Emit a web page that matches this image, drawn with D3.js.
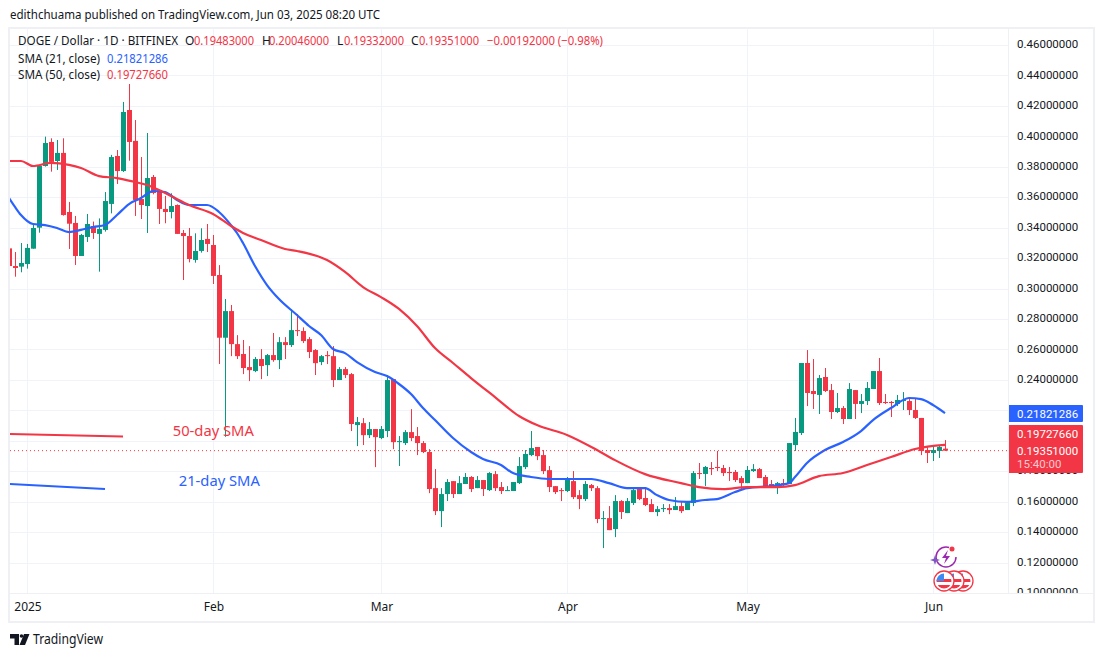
<!DOCTYPE html>
<html><head><meta charset="utf-8">
<script src="https://cdnjs.cloudflare.com/ajax/libs/d3/7.8.5/d3.min.js"></script>
<style>
html,body{margin:0;padding:0;background:#fff;overflow:hidden}
svg{display:block}
text{font-family:"Noto Sans",sans-serif;fill:#131722}
</style></head><body>
<script>
// Daily candles, first bar is Dec 29 2024 (day -3 relative to Jan 1)
const firstDay = -3;
const open = [.3264,.3148,.3144,.3161,.3262,.3400,.3805,.3963,.3838,.3891,.3503,.3431,.3214,.3339,.3411,.3359,.3385,.3556,.3871,.3772,.4173,.3970,.3588,.3542,.3733,.3648,.3523,.3503,.3549,.3365,.3345,.3188,.3247,.3326,.3286,.3089,.2677,.2852,.2635,.2570,.2484,.2458,.2537,.2497,.2563,.2530,.2648,.2629,.2727,.2721,.2668,.2596,.2517,.2563,.2556,.2399,.2471,.2438,.2103,.2116,.2037,.2077,.2018,.2064,.2405,.1991,.1985,.2057,.2031,.1985,.1926,.1689,.1538,.1650,.1735,.1650,.1716,.1762,.1689,.1742,.1676,.1781,.1696,.1670,.1670,.1722,.1827,.1906,.1959,.1906,.1807,.1702,.1676,.1670,.1735,.1643,.1617,.1709,.1689,.1486,.1492,.1420,.1604,.1525,.1591,.1683,.1624,.1584,.1532,.1551,.1558,.1545,.1571,.1545,.1591,.1788,.1782,.1821,.1828,.1821,.1795,.1795,.1755,.1722,.1801,.1814,.1762,.1716,.1703,.1722,.1716,.1972,.2051,.2511,.2327,.2301,.2419,.2333,.2189,.2215,.2143,.2333,.2242,.2261,.2340,.2458,.2255,.2255,.2242,.2261,.2261,.2202,.2150,.1939,.1920,.1933,.19483];
const high = [.3264,.3240,.3299,.3293,.3429,.3812,.3998,.3987,.3976,.3987,.3569,.3477,.3359,.3490,.3440,.3461,.3634,.3878,.3910,.4226,.4344,.4107,.3864,.4022,.3746,.3648,.3608,.3626,.3553,.3385,.3398,.3363,.3396,.3424,.3352,.3154,.2931,.2892,.2694,.2662,.2622,.2550,.2602,.2570,.2708,.2681,.2681,.2865,.2832,.2745,.2681,.2602,.2563,.2589,.2622,.2484,.2484,.2445,.2156,.2149,.2123,.2077,.2097,.2432,.2405,.2031,.2070,.2208,.2090,.1998,.1945,.1814,.1689,.1748,.1735,.1768,.1788,.1768,.1768,.1742,.1794,.1801,.1729,.1702,.1729,.1893,.1939,.2064,.1959,.1939,.1834,.1702,.1689,.1762,.1801,.1676,.1735,.1716,.1702,.1538,.1571,.1643,.1610,.1624,.1696,.1696,.1696,.1617,.1571,.1584,.1584,.1630,.1597,.1591,.1801,.1854,.1834,.1860,.1933,.1841,.1828,.1808,.1768,.1834,.1847,.1821,.1775,.1742,.1729,.1749,.1985,.2150,.2511,.2596,.2537,.2432,.2478,.2373,.2314,.2228,.2379,.2333,.2307,.2386,.2458,.2544,.2307,.2261,.2301,.2320,.2274,.2281,.2150,.1959,.1966,.1972,.20046];
const low = [.3144,.3078,.3107,.3131,.3262,.3367,.3801,.3768,.3779,.3479,.3260,.3155,.3214,.3306,.3326,.3111,.3374,.3494,.3687,.3766,.3840,.3477,.3457,.3365,.3619,.3424,.3429,.3461,.3359,.3056,.3172,.3170,.3236,.3240,.3030,.2504,.2026,.2556,.2537,.2438,.2392,.2451,.2405,.2425,.2519,.2471,.2537,.2616,.2688,.2642,.2543,.2432,.2497,.2504,.2353,.2399,.2412,.2064,.1965,.1972,.2018,.1827,.2011,.2024,.1945,.1834,.1972,.1998,.1906,.1919,.1656,.1512,.1433,.1604,.1624,.1650,.1716,.1663,.1689,.1637,.1670,.1670,.1650,.1670,.1670,.1716,.1814,.1899,.1873,.1781,.1663,.1650,.1604,.1663,.1617,.1551,.1604,.1670,.1459,.1295,.1413,.1367,.1486,.1525,.1578,.1610,.1571,.1532,.1505,.1532,.1518,.1545,.1525,.1545,.1571,.1749,.1703,.1775,.1801,.1768,.1736,.1729,.1676,.1722,.1795,.1755,.1703,.1696,.1650,.1696,.1716,.1933,.2038,.2228,.2209,.2176,.2320,.2143,.2182,.2110,.2143,.2143,.2182,.2235,.2340,.2235,.2242,.2156,.2228,.2202,.2169,.2143,.1906,.1854,.1867,.1887,.19332];
const close = [.3148,.3135,.3168,.3267,.3398,.3805,.3956,.3832,.3891,.3483,.3426,.3214,.3352,.3424,.3365,.3391,.3575,.3864,.3772,.4160,.3963,.3582,.3549,.3726,.3628,.3523,.3503,.3542,.3359,.3345,.3194,.3247,.3319,.3293,.3083,.2677,.2852,.2635,.2556,.2478,.2464,.2537,.2491,.2563,.2530,.2648,.2629,.2727,.2721,.2655,.2583,.2510,.2556,.2556,.2399,.2471,.2432,.2110,.2123,.2037,.2077,.2024,.2077,.2399,.1991,.1998,.2057,.2018,.1985,.1926,.1683,.1538,.1650,.1729,.1650,.1722,.1762,.1683,.1742,.1683,.1788,.1689,.1670,.1676,.1729,.1834,.1913,.1952,.1899,.1801,.1696,.1663,.1670,.1748,.1630,.1617,.1716,.1689,.1486,.1492,.1413,.1604,.1532,.1604,.1676,.1617,.1578,.1532,.1551,.1558,.1545,.1571,.1538,.1591,.1788,.1782,.1828,.1814,.1821,.1788,.1788,.1742,.1722,.1808,.1814,.1755,.1703,.1703,.1722,.1716,.1985,.2058,.2511,.2314,.2307,.2412,.2327,.2189,.2215,.2143,.2340,.2242,.2261,.2347,.2458,.2248,.2248,.2248,.2268,.2268,.2202,.2150,.1933,.1920,.1939,.1959,.19351];

// Moving averages: [day, value]
const sma21Days = [-3,-2,-1,1,3,5,7,9,11,13,15,17,19,20,21,23,25,27,29,30,32,34,35,36,38,40,42,45,47,49,51,53,55,58,60,62,64,66,68,71,74,76,79,81,84,87,90,94,97,100,103,105,107,110,113,115,118,120,124,127,128,130,133,136,139,141,144,147,149,151,153];
const sma21 = [.3595,.3536,.3483,.3424,.3417,.3398,.3371,.3385,.3404,.3417,.3483,.3555,.3595,.3621,.3641,.3634,.3582,.3549,.3549,.3549,.3503,.3417,.3365,.3299,.3148,.3023,.2931,.2826,.2754,.2695,.2603,.2576,.2517,.2452,.2425,.2373,.2307,.2215,.2136,.2018,.1926,.1880,.1841,.1788,.1762,.1749,.1749,.1749,.1722,.1689,.1689,.1643,.1611,.1598,.1611,.1617,.1663,.1689,.1703,.1722,.1762,.1854,.1939,.1992,.2064,.2136,.2215,.2281,.2274,.2235,.21821286];
const sma50Days = [-3,-1,1,4,7,9,12,15,18,20,22,24,27,31,34,36,39,43,45,50,53,56,59,62,65,68,71,74,78,82,85,90,95,98,103,109,112,116,120,125,128,132,136,140,144,148,153];
const sma50 = [.3838,.3838,.3805,.3825,.3812,.3792,.3739,.3726,.3700,.3680,.3647,.3608,.3549,.3490,.3411,.3365,.3319,.3260,.3247,.3187,.3109,.3010,.2944,.2866,.2754,.2609,.2511,.2412,.2287,.2163,.2103,.2038,.1939,.1873,.1781,.1722,.1696,.1683,.1696,.1696,.1709,.1768,.1788,.1841,.1893,.1946,.1972766];

const priceTicks = [.10,.12,.14,.16,.18,.20,.22,.24,.26,.28,.30,.32,.34,.36,.38,.40,.42,.44,.46];
const priceLabels = [.10,.12,.14,.16,.18,.24,.26,.28,.30,.32,.34,.36,.38,.40,.42,.44,.46];
const monthDays = [0,31,59,90,120,151];
const monthLabels = ["2025","Feb","Mar","Apr","May","Jun"];
const legendOHLC = [["O","0.19483000"],["H","0.20046000"],["L","0.19332000"],["C","0.19351000"]];
const annotationRed = {label:"50-day SMA",days:[-3,16],values:[.2044,.2028],labelDay:24.3,labelValue:.2031};
const annotationBlue = {label:"21-day SMA",days:[-3,13],values:[.1716,.1683],labelDay:25.3,labelValue:.1703};

const GREEN="#089981",RED="#f23645",BLUE="#2962ff",GRID="#f0f3fa";
const W=1104,H=657,L=10,R=1008,T=28,B=593;
const x=d3.scaleLinear().domain([-3,153]).range([9,945]);
const y=d3.scaleLinear().domain([.46,.10]).range([45,593]);

const svg=d3.select("body").append("svg").attr("width",W).attr("height",H);
const defs=svg.append("defs");
defs.append("clipPath").attr("id","plot").append("rect").attr("x",L).attr("y",T).attr("width",R-L).attr("height",B-T);
defs.append("clipPath").attr("id","axisclip").append("rect").attr("x",R).attr("y",T).attr("width",80).attr("height",B-T);

function fitted(g,str,xp,yp,len,size,fill){
  const t=g.append("text").attr("x",xp).attr("y",yp).attr("font-size",size).text(str);
  if(fill) t.style("fill",fill);
  if(len) t.attr("textLength",len).attr("lengthAdjust","spacingAndGlyphs");
  return t;
}
fitted(svg,"edithchuama published on TradingView.com, Jun 03, 2025 08:20 UTC",10,19,370,12);

// frame
svg.append("rect").attr("x",9).attr("y",28).attr("width",1085).attr("height",594)
  .attr("fill","#fff").attr("stroke","#eef0f3").attr("stroke-width",2);

// grid
const plot=svg.append("g").attr("clip-path","url(#plot)");
plot.selectAll("line.h").data(priceTicks).join("line").attr("class","h")
  .attr("x1",L).attr("x2",R).attr("y1",d=>Math.round(y(d))+.5).attr("y2",d=>Math.round(y(d))+.5)
  .attr("stroke",GRID);
plot.selectAll("line.v").data(monthDays).join("line").attr("class","v")
  .attr("y1",T).attr("y2",B).attr("x1",d=>x(d)+.5).attr("x2",d=>x(d)+.5).attr("stroke",GRID);
svg.append("line").attr("x1",L).attr("x2",1093).attr("y1",593.5).attr("y2",593.5).attr("stroke","#eef0f3");
svg.append("line").attr("x1",1008.5).attr("x2",1008.5).attr("y1",T).attr("y2",593).attr("stroke","#eef0f3");

// candles
const candles=open.map((o,i)=>({day:firstDay+i,o,h:high[i],l:low[i],c:close[i]}));
const cg=plot.append("g");
cg.selectAll("line").data(candles).join("line")
  .attr("x1",d=>x(d.day)+.5).attr("x2",d=>x(d.day)+.5)
  .attr("y1",d=>y(d.h)).attr("y2",d=>y(d.l))
  .attr("stroke",d=>d.c>=d.o?GREEN:RED).attr("stroke-width",1);
cg.selectAll("rect").data(candles).join("rect")
  .attr("x",d=>x(d.day)-2).attr("width",5)
  .attr("y",d=>y(Math.max(d.o,d.c)))
  .attr("height",d=>Math.max(1,y(Math.min(d.o,d.c))-y(Math.max(d.o,d.c))))
  .attr("fill",d=>d.c>=d.o?GREEN:RED);

// SMA lines
const lineGen=d3.line().x(d=>x(d[0])).y(d=>y(d[1])).curve(d3.curveMonotoneX);
plot.append("path").attr("d",lineGen(d3.zip(sma21Days,sma21))).attr("fill","none").attr("stroke",BLUE).attr("stroke-width",2.2);
plot.append("path").attr("d",lineGen(d3.zip(sma50Days,sma50))).attr("fill","none").attr("stroke",RED).attr("stroke-width",2.2);

// current price line
plot.append("line").attr("x1",L).attr("x2",R).attr("y1",y(close[close.length-1])).attr("y2",y(close[close.length-1]))
  .attr("stroke",RED).attr("stroke-width",1).attr("stroke-dasharray","1 3");

// annotations
[[annotationRed,RED,81],[annotationBlue,BLUE,81]].forEach(([a,c,len])=>{
  plot.append("path").attr("d",d3.line().x(d=>x(d[0])).y(d=>y(d[1]))(d3.zip(a.days,a.values)))
    .attr("stroke",c).attr("stroke-width",2).attr("fill","none");
  fitted(plot,a.label,x(a.labelDay),y(a.labelValue),len,14,c);
});

// axes
const yAxis=d3.axisRight(y).tickValues(priceLabels).tickSize(0).tickPadding(8).tickFormat(d3.format(".8f"));
const ya=svg.append("g").attr("clip-path","url(#axisclip)").append("g").attr("transform",`translate(${R+1},0)`).call(yAxis);
ya.select(".domain").remove();
ya.selectAll("text").attr("y",-1).style("font-family","Roboto").style("font-size","11.5px").style("fill","#131722");

const xAxis=d3.axisBottom(x).tickValues(monthDays).tickSize(0).tickPadding(9).tickFormat((d,i)=>monthLabels[i]);
const xa=svg.append("g").attr("transform",`translate(.5,${B})`).call(xAxis);
xa.select(".domain").remove();
xa.selectAll("text").style("font-family","'Noto Sans'").style("font-size","12px").style("fill","#131722");

// legend
fitted(svg,"DOGE / Dollar · 1D · BITFINEX",18,45,160,12);
const legendX=[[185,194],[262,269],[337,344],[411,419]];
legendOHLC.forEach((r,i)=>{
  fitted(svg,r[0],legendX[i][0],45,null,12);
  fitted(svg,r[1],legendX[i][1],45,60,12,RED);
});
fitted(svg,"−0.00192000 (−0.98%)",487,45,116,12,RED);
fitted(svg,"SMA (21, close)",18,63,82,12);
fitted(svg,"0.21821286",107,63,61,12,BLUE);
fitted(svg,"SMA (50, close)",18,79,82,12);
fitted(svg,"0.19727660",107,79,61,12,RED);

// price tags
svg.append("path").attr("fill",BLUE).attr("d","M1009 405h73a1 1 0 0 1 1 1v15a1 1 0 0 1 -1 1h-73z");
svg.append("path").attr("fill",RED).attr("d","M1009 425h73a1 1 0 0 1 1 1v46a1 1 0 0 1 -1 1h-73z");
const tag=(s,yp,c)=>svg.append("text").attr("x",1017).attr("y",yp).attr("font-size","11.5px").style("font-family","Roboto").style("fill",c).text(s);
tag("0.21821286",418,"#fff");
tag("0.19727660",438,"#fff");
tag("0.19351000",454.5,"#fff");
tag("15:40:00",468,"#fbc9ce");

// event icons
const ev=svg.append("g");
ev.append("circle").attr("cx",946).attr("cy",557).attr("r",10).attr("fill","#fff").attr("stroke","#9c27b0").attr("stroke-width",1.5).attr("stroke-dasharray","50 13");
ev.append("path").attr("d","M948 550l-6 8h4l-2 6 6-8h-4z").attr("fill","#9c27b0");
ev.append("circle").attr("cx",952).attr("cy",549).attr("r",2.5).attr("fill",RED);
ev.append("path").attr("d","M935 555l1.2 3.8 3.8 1.2-3.8 1.2-1.2 3.8-1.2-3.8-3.8-1.2 3.8-1.2z").attr("fill","#7e57c2");
[963,954,944].forEach((cx,i)=>{
  const id="flag"+i;
  defs.append("clipPath").attr("id",id).append("circle").attr("cx",cx).attr("cy",581).attr("r",7.5);
  ev.append("circle").attr("cx",cx).attr("cy",581).attr("r",10).attr("fill","#fff").attr("stroke",RED).attr("stroke-width",1.3);
  const g=ev.append("g").attr("clip-path",`url(#${id})`);
  g.append("rect").attr("x",cx-8).attr("y",573).attr("width",16).attr("height",16).attr("fill","#fff");
  g.append("rect").attr("x",cx-8).attr("y",579).attr("width",16).attr("height",3).attr("fill",RED);
  g.append("rect").attr("x",cx-8).attr("y",585).attr("width",16).attr("height",4).attr("fill",RED);
  g.append("rect").attr("x",cx-8).attr("y",573).attr("width",8).attr("height",8).attr("fill","#3d8bf2");
});

// logo
svg.append("path").attr("fill","#131722").attr("d","M10 634h9v11h-4.5v-6.5H10z");
svg.append("circle").attr("cx",21.5).attr("cy",636).attr("r",1.8).attr("fill","#131722");
svg.append("path").attr("fill","#131722").attr("d","M24 634h5.5l-4.5 11h-5.5z");
fitted(svg,"TradingView",33,644,70,13.5);
</script>
</body></html>
